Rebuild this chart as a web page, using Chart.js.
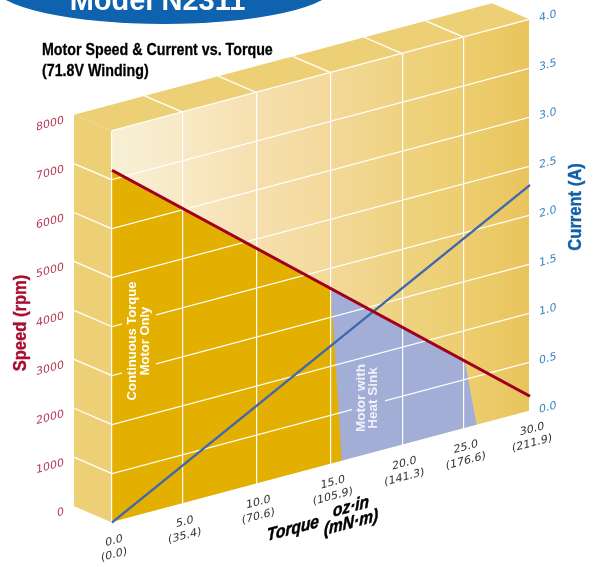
<!DOCTYPE html>
<html lang="en">
<head>
    <meta charset="UTF-8">
    <title>Model N2311</title>
    <script src="https://cdn.jsdelivr.net/npm/chart.js"></script>
    <style>
        html, body { margin: 0; padding: 0; background: #fff; }
        #page { position: relative; width: 598px; height: 567px; overflow: hidden; }
        canvas { position: absolute; left: 0; top: 0; }
        #banner { position: absolute; left: -6px; top: -52px; width: 340px; height: 76px; border-radius: 50%; background: #0f62ae; }
        #model { position: absolute; left: 0; width: 315px; top: -16px; text-align: center; color: #fff;
                 font: bold 29px/32px "Liberation Sans", sans-serif; }
        .title { position: absolute; left: 42px; color: #000; white-space: nowrap; transform-origin: 0 0; transform: scaleX(.89);
                 font: bold 16px/20px "Liberation Sans", sans-serif; -webkit-text-stroke: .3px #000; }
    </style>
</head>
<body>
    <div id="page">
        <canvas id="motorChart" width="598" height="567"></canvas>
        <div id="banner"></div>
        <div id="model">Model N2311</div>
        <div class="title" style="top:40px">Motor Speed &amp; Current vs. Torque</div>
        <div class="title" style="top:61px">(71.8V Winding)</div>
    </div>

    <script>
        // gridline values on the linear torque axis and their printed labels
        const torqueTicks = [0, 5.07, 10.36, 15.70, 20.83, 25.24, 30];
        const torqueOzLabels = ['0.0', '5.0', '10.0', '15.0', '20.0', '25.0', '30.0'];
        const torqueMnmLabels = ['(0.0)', '(35.4)', '(70.6)', '(105.9)', '(141.3)', '(176.6)', '(211.9)'];
        const speedTicks = [0, 1000, 2000, 3000, 4000, 5000, 6000, 7000, 8000];
        const currentTicks = [0, 0.5, 1, 1.5, 2, 2.5, 3, 3.5, 4];

        const torque = [0, 30];
        const speedRpm = [7200, 300];
        const currentAmps = [0, 2.31];

        // operating regions under the speed line
        const motorOnlyTorque = [0, 15.70, 16.49];
        const motorOnlySpeed = [7200, 3590, 0];
        const heatSinkTorque = [15.70, 25.33, 26.17];
        const heatSinkSpeed = [3590, 1370, 0];

        const SHEAR = 0.2667;
        const DEPTH_X = -38;
        const DEPTH_Y = -26.5;
        const WALL = '#edcf76';
        const ORANGE = '#e3af00';
        const PERIWINKLE = '#a2aed6';

        const points = (xs, ys) => xs.map((x, i) => ({ x, y: ys[i] }));

        function drawWalls(chart) {
            const { ctx, chartArea: a, scales } = chart;
            const quad = (p, fill) => {
                ctx.beginPath();
                ctx.moveTo(p[0], p[1]);
                ctx.lineTo(p[2], p[3]);
                ctx.lineTo(p[4], p[5]);
                ctx.lineTo(p[6], p[7]);
                ctx.closePath();
                ctx.fillStyle = fill;
                ctx.fill();
            };
            // back panel
            const grad = ctx.createLinearGradient(a.left, 0, a.right, 0);
            grad.addColorStop(0, '#f7f0d6');
            grad.addColorStop(0.17, '#f8e9c6');
            grad.addColorStop(0.35, '#f6dfae');
            grad.addColorStop(0.52, '#f3d99a');
            grad.addColorStop(0.7, '#eed27f');
            grad.addColorStop(0.85, '#edcd6e');
            grad.addColorStop(1, '#e8c45c');
            ctx.fillStyle = grad;
            ctx.fillRect(a.left, a.top, a.right - a.left, a.bottom - a.top);

            // left and top faces
            quad([a.left, a.top, a.left, a.bottom, a.left + DEPTH_X, a.bottom + DEPTH_Y, a.left + DEPTH_X, a.top + DEPTH_Y], WALL);
            quad([a.left, a.top, a.right, a.top, a.right + DEPTH_X, a.top + DEPTH_Y, a.left + DEPTH_X, a.top + DEPTH_Y], WALL);

            ctx.strokeStyle = '#fff';
            ctx.lineWidth = 1.2;
            ctx.beginPath();
            speedTicks.slice(1, -1).forEach(v => {
                const y = scales.y.getPixelForValue(v);
                ctx.moveTo(a.left, y);
                ctx.lineTo(a.left + DEPTH_X, y + DEPTH_Y);
            });
            torqueTicks.slice(1, -1).forEach(v => {
                const x = scales.x.getPixelForValue(v);
                ctx.moveTo(x, a.top);
                ctx.lineTo(x + DEPTH_X, a.top + DEPTH_Y);
            });
            ctx.stroke();
        }

        function uprightText(ctx, lines, cx, cy, font, color, leading, squeeze = 1, stroke = 0) {
            ctx.save();
            ctx.translate(cx, cy);
            ctx.rotate(-Math.PI / 2);
            ctx.scale(squeeze, 1);
            ctx.font = font;
            ctx.fillStyle = color;
            ctx.strokeStyle = color;
            ctx.lineWidth = stroke;
            ctx.textAlign = 'center';
            ctx.textBaseline = 'middle';
            lines.forEach((t, i) => {
                ctx.fillText(t, 0, i * leading);
                if (stroke) ctx.strokeText(t, 0, i * leading);
            });
            ctx.restore();
        }

        // axis caption on the sloping floor, slanted with the chart
        function floorText(ctx, text, cx, cy, squeeze) {
            ctx.save();
            ctx.translate(cx, cy);
            ctx.transform(1, -SHEAR, 0, 1, 0, 0);
            ctx.scale(squeeze, 1);
            ctx.font = 'italic bold 18px "Liberation Sans", sans-serif';
            ctx.fillStyle = '#000';
            ctx.strokeStyle = '#000';
            ctx.lineWidth = 0.5;
            ctx.textAlign = 'center';
            ctx.textBaseline = 'middle';
            ctx.fillText(text, 0, 0);
            ctx.strokeText(text, 0, 0);
            ctx.restore();
        }

        const shearPlugin = {
            id: 'shear',
            beforeDraw(chart) {
                const { ctx, chartArea } = chart;
                ctx.save();
                ctx.transform(1, -SHEAR, 0, 1, 0, SHEAR * chartArea.left);
                drawWalls(chart);
            },
            // the two lines go on top of the gridlines, see afterDraw
            beforeDatasetDraw(chart, args) {
                if (args.index < 2) return false;
            },
            afterDraw(chart) {
                const { ctx } = chart;
                chart.getDatasetMeta(1).controller.draw();
                chart.getDatasetMeta(0).controller.draw();
                ctx.restore();

                // region captions, gridlines stop short of them
                ctx.fillStyle = ORANGE;
                ctx.fillRect(122, 283, 34, 118);
                ctx.fillStyle = PERIWINKLE;
                ctx.fillRect(352, 362, 33, 73);
                uprightText(ctx, ['Continuous Torque', 'Motor Only'], 132.5, 341, 'bold 13px "Liberation Sans", sans-serif', '#fff', 13);
                uprightText(ctx, ['Motor with', 'Heat Sink'], 361.5, 398, 'bold 13.5px "Liberation Sans", sans-serif', '#f0f2fa', 12);

                uprightText(ctx, ['Speed (rpm)'], 21.5, 323, 'bold 18px "Liberation Sans", sans-serif', '#a80f30', 0, 0.92, 0.4);
                uprightText(ctx, ['Current (A)'], 576, 207, 'bold 18px "Liberation Sans", sans-serif', '#1060a8', 0, 0.92, 0.4);

                floorText(ctx, 'Torque', 293, 529, 0.86);
                floorText(ctx, 'oz\u00b7in', 351, 507, 0.86);
                floorText(ctx, '(mN\u00b7m)', 351, 523, 0.86);
            }
        };

        new Chart(document.getElementById('motorChart'), {
            type: 'line',
            plugins: [shearPlugin],
            data: {
                datasets: [
                    { label: 'Speed', data: points(torque, speedRpm), yAxisID: 'y', borderColor: '#a0001e', borderWidth: 2.6, order: 0 },
                    { label: 'Current', data: points(torque, currentAmps), yAxisID: 'y1', borderColor: '#3f68ae', borderWidth: 2.6, order: 1 },
                    { label: 'Motor Only', data: points(motorOnlyTorque, motorOnlySpeed), yAxisID: 'y', borderWidth: 0, fill: 'origin', backgroundColor: ORANGE, order: 2 },
                    { label: 'Heat Sink', data: points(heatSinkTorque, heatSinkSpeed), yAxisID: 'y', borderWidth: 0, fill: 'origin', backgroundColor: PERIWINKLE, order: 3 }
                ]
            },
            options: {
                responsive: false,
                animation: false,
                layout: { padding: { top: 131 } },
                elements: { point: { radius: 0 }, line: { tension: 0, borderCapStyle: 'butt' } },
                plugins: { legend: { display: false }, tooltip: { enabled: false } },
                scales: {
                    x: {
                        type: 'linear', min: 0, max: 30,
                        afterFit: s => { s.height = 44.5; },
                        afterBuildTicks: s => { s.ticks = torqueTicks.map(value => ({ value })); },
                        border: { display: false },
                        grid: { color: '#fff', lineWidth: 1.2, drawTicks: false, z: 1 },
                        ticks: {
                            autoSkip: false, maxRotation: 0, padding: 12, labelOffset: 2,
                            color: '#333', font: { family: 'DejaVu Sans', size: 11, lineHeight: 1.27 },
                            callback: (v, i) => [torqueOzLabels[i], torqueMnmLabels[i]]
                        }
                    },
                    y: {
                        min: 0, max: 8000,
                        afterFit: s => { s.width = 112; },
                        afterBuildTicks: s => { s.ticks = speedTicks.map(value => ({ value })); },
                        border: { display: false },
                        // long invisible tick marks keep the labels clear of the left face
                        grid: { color: '#fff', lineWidth: 1.2, tickLength: 48, tickColor: 'rgba(0,0,0,0)', z: 1 },
                        ticks: {
                            autoSkip: false, padding: 0, labelOffset: -23.5,
                            color: '#b53a55', font: { family: 'DejaVu Sans', size: 11 },
                            callback: v => String(v)
                        }
                    },
                    y1: {
                        position: 'right', min: 0, max: 4,
                        afterFit: s => { s.width = 68; },
                        afterBuildTicks: s => { s.ticks = currentTicks.map(value => ({ value })); },
                        border: { display: false },
                        grid: { display: false },
                        ticks: {
                            autoSkip: false, padding: 1, labelOffset: 1.5,
                            color: '#3a85c4', font: { family: 'DejaVu Sans', size: 11 },
                            callback: v => v.toFixed(1)
                        }
                    }
                }
            }
        });
    </script>
</body>
</html>
